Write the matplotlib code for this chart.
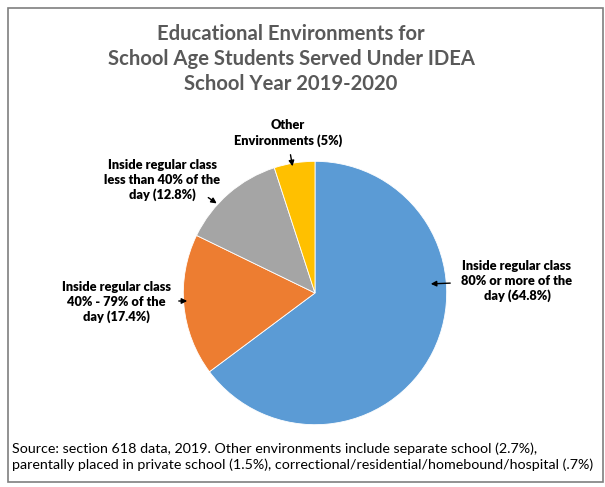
import matplotlib.pyplot as plt
from matplotlib.patches import Rectangle

plt.rcParams['font.family'] = ['Lato', 'DejaVu Sans']

categories = ['Inside regular class 80% or more of the day',
              'Inside regular class 40% - 79% of the day',
              'Inside regular class less than 40% of the day',
              'Other Environments']
shares = [64.8, 17.4, 12.8, 5.0]
colors = ['#5B9BD5', '#ED7D31', '#A5A5A5', '#FFC000']

fig = plt.figure(figsize=(6.05, 4.87), dpi=100)
fig.patch.set_facecolor('white')


def px(x, y):
    return x / 605, 1 - y / 487


# outer frame
fig.add_artist(Rectangle(px(8, 482), 595 / 605, 474 / 487,
                         transform=fig.transFigure, fill=False,
                         edgecolor='#7f7f7f', linewidth=1.2))

fig.text(*px(291, 59), 'Educational Environments for\nSchool Age Students Served Under IDEA\nSchool Year 2019-2020',
         ha='center', va='center', fontsize=14.6, fontweight='bold',
         color='#595959', linespacing=1.32)

# pie axes centred around (315, 293) px with radius ~132 px
ax = fig.add_axes([(315 - 133) / 605, 1 - (293 + 133) / 487, 266 / 605, 266 / 487])
ax.pie(shares, colors=colors, startangle=90, counterclock=False,
       wedgeprops=dict(edgecolor='white', linewidth=0.6))
ax.set_aspect('equal')
ax.set_xlim(-1.01, 1.01)
ax.set_ylim(-1.01, 1.01)

labels = [
    (f'Inside regular class\n80% or more of the\nday ({shares[0]:.1f}%)', (517, 281), (453, 283), (428, 284)),
    (f'Inside regular class\n40% - 79% of the\nday ({shares[1]:.1f}%)', (116, 302), (176, 301), (190, 301)),
    (f'Inside regular class\nless than 40% of the\nday ({shares[2]:.1f}%)', (162, 180), (206, 196), (219, 205)),
    (f'Other\nEnvironments ({shares[3]:.0f}%)', (288, 133), (290, 152), (293, 169)),
]

for text, pos, a0, a1 in labels:
    fig.text(*px(*pos), text, ha='center', va='center', fontsize=9.2,
             fontweight='heavy', color='black', linespacing=1.25)
    ax.annotate('', xy=px(*a1), xytext=px(*a0), xycoords='figure fraction',
                textcoords='figure fraction',
                arrowprops=dict(arrowstyle='-|>', color='black', lw=1.0,
                                mutation_scale=8))

fig.text(12 / 605, 1 - 457 / 487,
         'Source: section 618 data, 2019. Other environments include separate school (2.7%),\n'
         'parentally placed in private school (1.5%), correctional/residential/homebound/hospital (.7%)',
         ha='left', va='center', fontsize=10.3, color='black', linespacing=1.35)

fig.savefig('out.png', dpi=100)
